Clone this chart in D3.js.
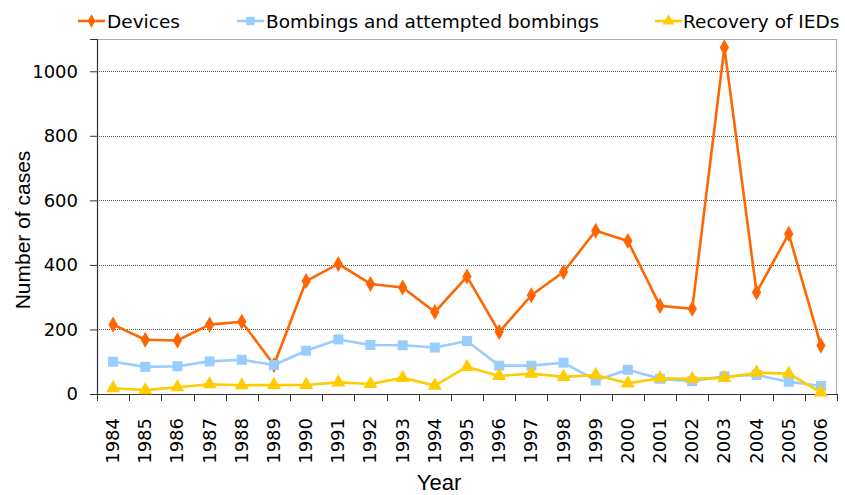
<!DOCTYPE html>
<html>
<head>
<meta charset="utf-8">
<script src="https://cdn.jsdelivr.net/npm/d3@7"></script>
<style>
  html, body { margin: 0; padding: 0; background: #fff; }
  svg { display: block; }
</style>
</head>
<body>
<svg id="chart" width="845" height="495"></svg>
<script>
// Year categories along the x axis
const years = ["1984","1985","1986","1987","1988","1989","1990","1991","1992","1993","1994","1995",
               "1996","1997","1998","1999","2000","2001","2002","2003","2004","2005","2006"];

// Number of cases per year, one array per series
const devices   = [215, 168, 166, 215, 224, 90, 350, 403, 341, 330, 254, 364,
                   192, 306, 378, 506, 474, 273, 264, 1074, 315, 496, 150];
const bombings  = [100, 84, 86, 101, 106, 90, 134, 169, 152, 151, 144, 164,
                   88, 88, 97, 42, 75, 47, 40, 55, 59, 38, 25];
const recovery  = [18, 12, 21, 30, 27, 28, 28, 36, 31, 50, 26, 84,
                   56, 63, 53, 59, 33, 49, 47, 50, 66, 63, 5];

const yTicks = [0, 200, 400, 600, 800, 1000];

const seriesNames = ["Devices", "Bombings and attempted bombings", "Recovery of IEDs"];

const series = [
  { name: seriesNames[0], values: devices,  color: "#ff6600", symbol: d3.symbolDiamond,  size: 75 },
  { name: seriesNames[1], values: bombings, color: "#99ccff", symbol: d3.symbolSquare,   size: 100 },
  { name: seriesNames[2], values: recovery, color: "#ffcc00", symbol: d3.symbolTriangle, size: 85 }
];

const svg = d3.select("#chart");
const margin = { left: 97, right: 8, top: 39, bottom: 101 };
const W = 845, H = 495;
const innerW = W - margin.left - margin.right;
const innerH = H - margin.top - margin.bottom;

const g = svg.append("g").attr("transform", `translate(${margin.left},${margin.top})`);

const x = d3.scaleBand().domain(years).range([0, innerW]);
const y = d3.scaleLinear().domain([0, 1100]).range([innerH, 0]);

// Frame on top and right
g.append("line").attr("x1", 0).attr("x2", innerW).attr("y1", 0.5).attr("y2", 0.5)
  .attr("stroke", "#b0b0b0").attr("stroke-width", 1.2);
g.append("line").attr("x1", innerW - 0.5).attr("x2", innerW - 0.5).attr("y1", 0).attr("y2", innerH)
  .attr("stroke", "#b0b0b0").attr("stroke-width", 1.2);

// Dotted horizontal gridlines
g.append("g").selectAll("line")
  .data(yTicks.filter(d => d > 0))
  .join("line")
  .attr("x1", 0).attr("x2", innerW)
  .attr("y1", d => Math.round(y(d)) + 0.5).attr("y2", d => Math.round(y(d)) + 0.5)
  .attr("stroke", "#555").attr("stroke-width", 1).attr("stroke-dasharray", "1,1");

// Y axis
const yAxis = g.append("g")
  .call(d3.axisLeft(y).tickValues(yTicks).tickSize(7).tickPadding(12).tickFormat(d3.format("d")));
yAxis.select(".domain").attr("stroke", "#333").attr("stroke-width", 1.2);
yAxis.selectAll(".tick line").attr("stroke", "#333");
yAxis.selectAll("text").attr("font-family", "DejaVu Sans, Verdana, sans-serif")
  .attr("font-size", 18).attr("fill", "#000");

// X axis with ticks between categories
const xAxis = g.append("g").attr("transform", `translate(0,${innerH})`);
xAxis.append("line").attr("x1", 0).attr("x2", innerW).attr("y1", 0.5).attr("y2", 0.5)
  .attr("stroke", "#333").attr("stroke-width", 1.2);
xAxis.selectAll("line.tk")
  .data(d3.range(years.length + 1))
  .join("line").attr("class", "tk")
  .attr("x1", i => Math.round(i * x.step()) + 0.5).attr("x2", i => Math.round(i * x.step()) + 0.5)
  .attr("y1", 0).attr("y2", 7)
  .attr("stroke", "#333");
xAxis.selectAll("text")
  .data(years)
  .join("text")
  .attr("transform", d => `translate(${x(d) + x.bandwidth() / 2 + 6},24) rotate(-90)`)
  .attr("text-anchor", "end")
  .attr("font-family", "DejaVu Sans, Verdana, sans-serif")
  .attr("font-size", 18)
  .attr("fill", "#000")
  .text(d => d);

// Axis titles
svg.append("text")
  .attr("transform", `translate(30,230) rotate(-90)`)
  .attr("text-anchor", "middle")
  .attr("font-family", "Liberation Sans, Arial, sans-serif")
  .attr("font-size", 21).attr("fill", "#000")
  .text("Number of cases");
svg.append("text")
  .attr("x", 439).attr("y", 490)
  .attr("text-anchor", "middle")
  .attr("font-family", "Liberation Sans, Arial, sans-serif")
  .attr("font-size", 22).attr("fill", "#000")
  .text("Year");

// Series lines and markers
const line = d3.line()
  .x((d, i) => x(years[i]) + x.bandwidth() / 2)
  .y(d => y(d));

series.forEach(s => {
  const sg = g.append("g");
  sg.append("path")
    .datum(s.values)
    .attr("fill", "none")
    .attr("stroke", s.color)
    .attr("stroke-width", 2.6)
    .attr("stroke-linejoin", "round")
    .attr("d", line);
  sg.selectAll("path.m")
    .data(s.values)
    .join("path").attr("class", "m")
    .attr("transform", (d, i) => `translate(${x(years[i]) + x.bandwidth() / 2},${y(d)})`)
    .attr("d", d3.symbol().type(s.symbol).size(s.size))
    .attr("fill", s.color);
});

// Legend
const legendPos = [{ lx: 78, tx: 107 }, { lx: 237, tx: 266 }, { lx: 655, tx: 683 }];
const legend = svg.append("g");
series.forEach((s, i) => {
  const p = legendPos[i];
  const lg = legend.append("g");
  lg.append("line").attr("x1", p.lx).attr("x2", p.lx + 27).attr("y1", 21).attr("y2", 21)
    .attr("stroke", s.color).attr("stroke-width", 2.6);
  lg.append("path")
    .attr("transform", `translate(${p.lx + 13.5},21)`)
    .attr("d", d3.symbol().type(s.symbol).size(s.size * 0.7))
    .attr("fill", s.color);
  lg.append("text")
    .attr("x", p.tx).attr("y", 28)
    .attr("font-family", "DejaVu Sans, Verdana, sans-serif")
    .attr("font-size", 18.5).attr("fill", "#000")
    .text(s.name);
});
</script>
</body>
</html>
